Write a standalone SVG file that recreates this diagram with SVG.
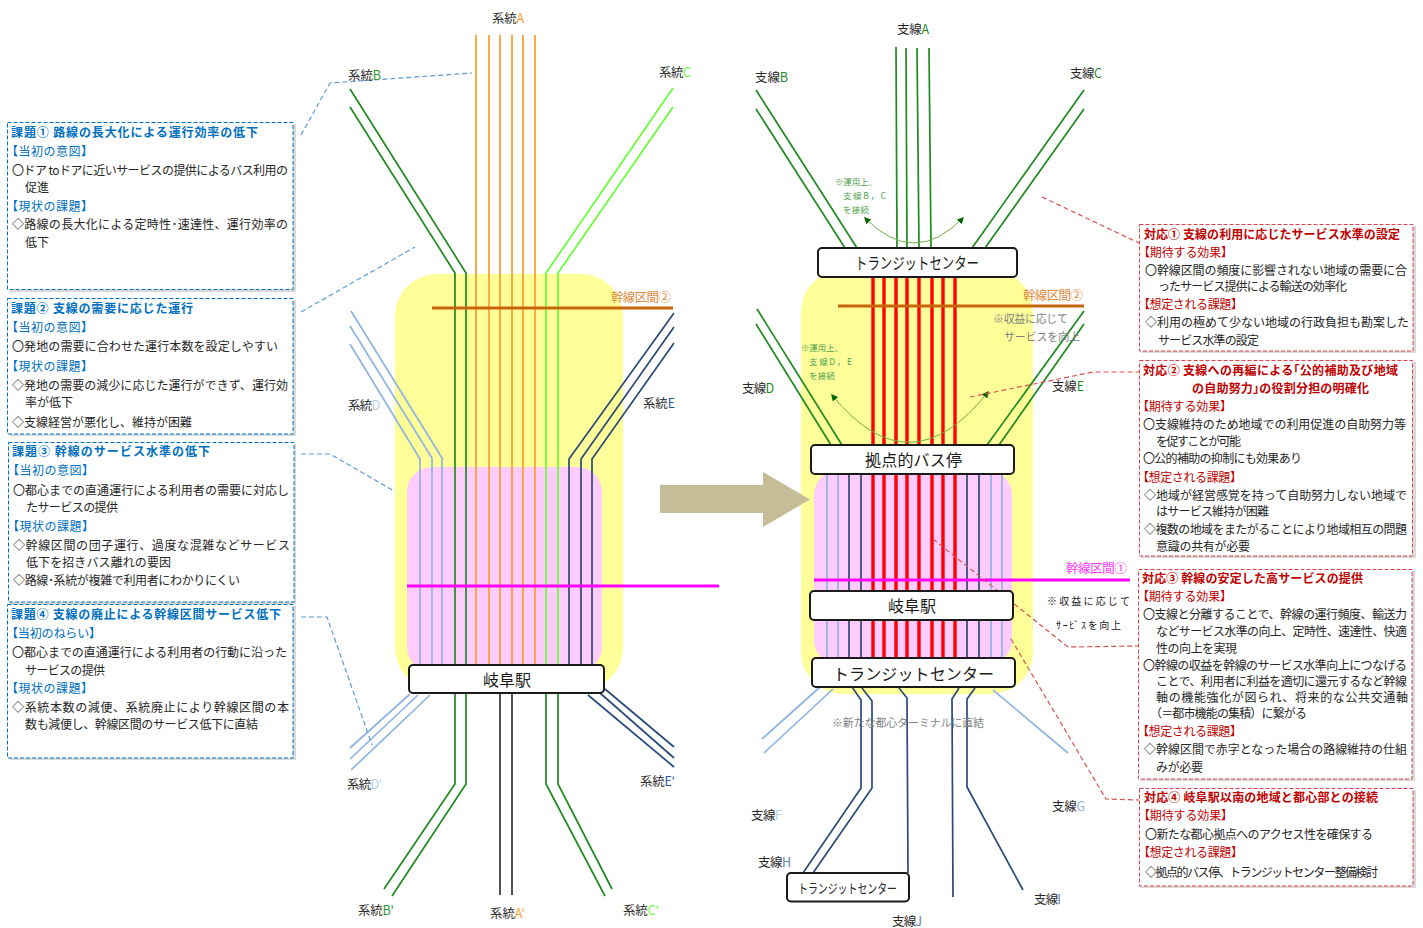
<svg xmlns="http://www.w3.org/2000/svg" width="1423" height="928" viewBox="0 0 1423 928">
<style>
text{font-family:"Noto Sans CJK JP","Liberation Sans",sans-serif;dominant-baseline:central;fill:#262626;transform:translateY(-2px)}
.t{font-size:12px}
.bh{font-size:12px;font-weight:700;fill:#0070c0}
.bs{font-size:12px;fill:#0070c0}
.rh{font-size:12px;font-weight:700;fill:#c00000}
.rs{font-size:12px;fill:#c00000}
.l{font-size:12.500px}
.n{font-size:16px;fill:#1a1a1a}
.gn{font-size:8.500px;fill:#4ea24e}
.gy{font-size:11px;fill:#7f7f7f}
.k{font-size:10px;fill:#1a1a1a}
line,polyline,path{fill:none}
.o{stroke:#ff9f33;stroke-width:1.800}
.g{stroke:#1f8a1f;stroke-width:1.700}
.lg{stroke:#66ff33;stroke-width:1.700}
.lb{stroke:#8eb4e3;stroke-width:1.700}
.nv{stroke:#2a4a7a;stroke-width:1.700}
.bk{stroke:#333;stroke-width:1.700}
.r{stroke:#ff0000;stroke-width:3.400}
.br{stroke:#c8640a;stroke-width:3}
.mg{stroke:#ff00ff;stroke-width:3}
.db{stroke:#5b9bd5;stroke-width:1.200;stroke-dasharray:5 3}
.dr{stroke:#d9534f;stroke-width:1.200;stroke-dasharray:5 3}
.cv{stroke:#70ad47;stroke-width:1;marker-start:url(#ah);marker-end:url(#ah)}
.nb{fill:#fff;stroke:#1a1a1a;stroke-width:2}
.sh{fill:#d9d9d9}
.bb{fill:#fff;stroke:#0070c0;stroke-width:1;stroke-dasharray:4 2}
.rb{fill:#fff;stroke:#d9434f;stroke-width:1;stroke-dasharray:4 2}
</style>
<defs>
<marker id="ah" viewBox="0 0 10 10" refX="8" refY="5" markerWidth="7" markerHeight="7" markerUnits="userSpaceOnUse" orient="auto-start-reverse"><path d="M0,0L10,5L0,10Z" style="fill:#006400"/></marker>
</defs>

<g id="zones">
<rect x="395" y="274" width="228" height="416" rx="42" fill="#ffff99"/>
<rect x="407" y="467" width="195" height="205" rx="25" fill="#ffccff"/>
<rect x="801" y="270" width="232" height="424" rx="42" fill="#ffff99"/>
<rect x="814" y="470" width="198" height="195" rx="25" fill="#ffccff"/>
<path d="M660,485H763V472L810,499.500L763,527V513H660Z" style="fill:#c4bd97"/>
</g>

<g id="connectors">
<line class="o" x1="476" y1="35" x2="476" y2="665"/>
<line class="o" x1="489" y1="35" x2="489" y2="665"/>
<line class="o" x1="500" y1="35" x2="500" y2="665"/>
<line class="o" x1="512" y1="35" x2="512" y2="665"/>
<line class="o" x1="523" y1="35" x2="523" y2="665"/>
<line class="o" x1="535" y1="35" x2="535" y2="665"/>
<polyline class="g" points="350,89 466,273 466,665"/>
<polyline class="g" points="350,107 455,273 455,665"/>
<polyline class="lg" points="673,88 546,273 546,665"/>
<polyline class="lg" points="673,107 558,273 558,665"/>
<polyline class="lb" points="351,311 442,458 442,665"/>
<polyline class="lb" points="350,326 432,458 432,665"/>
<polyline class="lb" points="350,344 420,459 420,665"/>
<polyline class="nv" points="674,313 569,459 569,665"/>
<polyline class="nv" points="674,327 581,459 581,665"/>
<polyline class="nv" points="674,343 592,459 592,665"/>
<line class="br" x1="432" y1="308" x2="673" y2="308"/>
<line class="mg" x1="407" y1="586" x2="719" y2="586"/>
<line class="lb" x1="410" y1="694" x2="350" y2="748"/>
<line class="lb" x1="418" y1="695" x2="350" y2="759"/>
<line class="lb" x1="430" y1="695" x2="351" y2="770"/>
<line class="nv" x1="605" y1="689" x2="674" y2="747"/>
<line class="nv" x1="600" y1="693" x2="674" y2="758"/>
<line class="nv" x1="588" y1="695" x2="674" y2="767"/>
<polyline class="g" points="455,693 455,784 384,889"/>
<polyline class="g" points="466,693 466,784 392,896"/>
<line class="bk" x1="500" y1="693" x2="500" y2="895"/>
<line class="bk" x1="512" y1="693" x2="512" y2="895"/>
<polyline class="g" points="546,693 546,784 605,896"/>
<polyline class="g" points="558,693 558,784 612,889"/>
<polyline class="db" points="301,135 330,83 472,73"/>
<line class="db" x1="301" y1="312" x2="415" y2="247"/>
<polyline class="db" points="301,454 330,454 394,491"/>
<polyline class="db" points="301,617 327,617 372,745"/>

<line class="g" x1="896" y1="47" x2="897" y2="248"/>
<line class="g" x1="906" y1="48" x2="907" y2="248"/>
<line class="g" x1="917" y1="48" x2="919" y2="248"/>
<line class="g" x1="929" y1="48" x2="931" y2="248"/>
<line class="g" x1="756" y1="90" x2="857" y2="248"/>
<line class="g" x1="756" y1="109" x2="845" y2="248"/>
<line class="g" x1="1084" y1="90" x2="972" y2="248"/>
<line class="g" x1="1084" y1="109" x2="985" y2="248"/>
<line class="g" x1="757" y1="309" x2="842" y2="445"/>
<line class="g" x1="756" y1="324" x2="831" y2="445"/>
<line class="g" x1="1084" y1="311" x2="987" y2="445"/>
<line class="g" x1="1084" y1="324" x2="999" y2="445"/>
<line class="r" x1="873" y1="277" x2="873" y2="658"/>
<line class="r" x1="884" y1="277" x2="884" y2="658"/>
<line class="r" x1="896" y1="277" x2="896" y2="658"/>
<line class="r" x1="907" y1="277" x2="907" y2="658"/>
<line class="r" x1="919" y1="277" x2="919" y2="658"/>
<line class="r" x1="932" y1="277" x2="932" y2="658"/>
<line class="r" x1="943" y1="277" x2="943" y2="658"/>
<line class="r" x1="955" y1="277" x2="955" y2="658"/>
<line class="lb" x1="827" y1="474" x2="827" y2="658"/>
<line class="lb" x1="838" y1="474" x2="838" y2="658"/>
<line class="nv" x1="849" y1="474" x2="849" y2="658"/>
<line class="nv" x1="861" y1="474" x2="861" y2="658"/>
<line class="nv" x1="967" y1="474" x2="967" y2="658"/>
<line class="nv" x1="979" y1="474" x2="979" y2="658"/>
<line class="lb" x1="991" y1="474" x2="991" y2="658"/>
<line class="lb" x1="1002" y1="474" x2="1002" y2="658"/>
<line class="br" x1="838" y1="306" x2="1084" y2="306"/>
<line class="mg" x1="814" y1="580" x2="1130" y2="580"/>
<path class="cv" d="M865,218Q914,268 963,218"/>
<path class="cv" d="M832,395Q910,491 988,392"/>
<line class="lb" x1="820" y1="687" x2="762" y2="739"/>
<line class="lb" x1="833" y1="689" x2="764" y2="753"/>
<line class="lb" x1="993" y1="690" x2="1068" y2="753"/>
<polyline class="nv" points="852,687 861,700 861,788 803,873"/>
<polyline class="nv" points="862,688 872,701 872,788 813,873"/>
<polyline class="nv" points="899,688 907,698 908,873"/>
<polyline class="nv" points="959,688 952,699 953,897"/>
<polyline class="nv" points="975,688 967,699 967,787 1023,890"/>
<line class="dr" x1="1042" y1="197" x2="1139" y2="243"/>
<polyline class="dr" points="970,397 1093,372 1139,372"/>
<polyline class="dr" points="933,539 1068,647 1138,646"/>
<polyline class="dr" points="1011,639 1106,799 1139,800"/>
</g>

<g id="node-gifu-left"><rect class="nb" x="409" y="665" width="195" height="28" rx="4"/><text class="n" x="507" y="680.500" text-anchor="middle">岐阜駅</text></g>
<g id="node-tc-top"><rect class="nb" x="818" y="248" width="199" height="29" rx="4"/><text class="n" x="855" y="264" textLength="124" lengthAdjust="spacingAndGlyphs">トランジットセンター</text></g>
<g id="node-hub-stop"><rect class="nb" x="811" y="445" width="203" height="29" rx="4"/><text class="n" x="865" y="461" textLength="97">拠点的バス停</text></g>
<g id="node-gifu-right"><rect class="nb" x="810" y="591" width="203" height="29" rx="4"/><text class="n" x="888" y="607" textLength="48">岐阜駅</text></g>
<g id="node-tc-mid"><rect class="nb" x="812" y="658" width="203" height="29" rx="4"/><text class="n" x="833" y="675" textLength="161">トランジットセンター</text></g>
<g id="node-tc-small"><rect class="nb" x="787" y="873" width="122" height="28.500" rx="4"/><text class="l" x="798" y="889" textLength="99" lengthAdjust="spacingAndGlyphs" style="font-size:13px">トランジットセンター</text></g>

<g id="labels-left">
<text class="l" x="492" y="19" textLength="32">系統<tspan fill="#ff9f33">A</tspan></text>
<text class="l" x="348" y="76" textLength="33">系統<tspan fill="#339933">B</tspan></text>
<text class="l" x="659" y="73" textLength="32">系統<tspan fill="#66ff33">C</tspan></text>
<text class="l" x="348" y="406" textLength="32">系統<tspan fill="#b4cdec">D</tspan></text>
<text class="l" x="643" y="404" textLength="32">系統<tspan fill="#2f5597">E</tspan></text>
<text class="l" x="611" y="298" textLength="60" style="fill:#e08a3c">幹線区間②</text>
<text class="l" x="347" y="785" textLength="35">系統<tspan fill="#b4cdec">D'</tspan></text>
<text class="l" x="640" y="782" textLength="35">系統<tspan fill="#2f5597">E'</tspan></text>
<text class="l" x="358" y="911" textLength="36">系統<tspan fill="#339933">B'</tspan></text>
<text class="l" x="490" y="914" textLength="35">系統<tspan fill="#ff9f33">A'</tspan></text>
<text class="l" x="623" y="911" textLength="36">系統<tspan fill="#66ff33">C'</tspan></text>
</g>

<g id="labels-right">
<text class="l" x="897" y="30" textLength="32">支線<tspan fill="#1f8a1f">A</tspan></text>
<text class="l" x="755" y="78" textLength="33">支線<tspan fill="#1f8a1f">B</tspan></text>
<text class="l" x="1070" y="74" textLength="32">支線<tspan fill="#1f8a1f">C</tspan></text>
<text class="l" x="742" y="389" textLength="32">支線<tspan fill="#1f8a1f">D</tspan></text>
<text class="l" x="1052" y="387" textLength="32">支線<tspan fill="#1f8a1f">E</tspan></text>
<text class="l" x="1023" y="296" textLength="60" style="fill:#e08a3c">幹線区間②</text>
<text class="l" x="1066" y="569" textLength="61" style="fill:#ff33ff">幹線区間①</text>
<text class="l" x="751" y="816" textLength="31">支線<tspan fill="#b4cdec">F</tspan></text>
<text class="l" x="1052" y="807" textLength="33">支線<tspan fill="#8eb4e3">G</tspan></text>
<text class="l" x="758" y="863" textLength="33">支線<tspan fill="#5a7fb0">H</tspan></text>
<text class="l" x="1034" y="900" textLength="27">支線<tspan fill="#5a7fb0">I</tspan></text>
<text class="l" x="892" y="922" textLength="30">支線<tspan fill="#5a7fb0">J</tspan></text>
<text class="gn" x="835" y="183" textLength="42">※運用上、</text>
<text class="gn" x="843" y="197" textLength="43">支線B，C</text>
<text class="gn" x="843" y="211" textLength="26">を接続</text>
<text class="gn" x="801" y="349" textLength="42">※運用上、</text>
<text class="gn" x="809" y="363" textLength="43">支線D，E</text>
<text class="gn" x="809" y="377" textLength="26">を接続</text>
<text class="gy" x="993" y="320" textLength="75">※収益に応じて</text>
<text class="gy" x="1004" y="338" textLength="76">サービスを向上</text>
<text class="gy" x="832" y="724" textLength="152">※新たな都心ターミナルに直結</text>
<text class="k" x="1047" y="602" textLength="83">※収益に応じて</text>
<text class="k" x="1056" y="626" textLength="65">ｻｰﾋﾞｽを向上</text>
</g>

<g id="issue-1">
<rect class="sh" x="10" y="124" width="286" height="168"/><rect class="bb" x="7.500" y="122.500" width="285.500" height="167"/>
<text class="bh" x="11" y="133" textLength="247">課題①  路線の長大化による運行効率の低下</text>
<text class="bs" x="6" y="152" textLength="87">【当初の意図】</text>
<text class="t" x="12" y="171" textLength="276">〇ドア toドアに近いサービスの提供によるバス利用の</text>
<text class="t" x="25" y="188" textLength="24">促進</text>
<text class="bs" x="6" y="207" textLength="87">【現状の課題】</text>
<text class="t" x="12" y="225" textLength="276">◇路線の長大化による定時性･速達性、運行効率の</text>
<text class="t" x="25" y="243" textLength="24">低下</text>
</g>
<g id="issue-2">
<rect class="sh" x="10" y="300" width="286" height="136"/><rect class="bb" x="7.500" y="298.500" width="285.500" height="135.500"/>
<text class="bh" x="11" y="309" textLength="182">課題②  支線の需要に応じた運行</text>
<text class="bs" x="6" y="328" textLength="87">【当初の意図】</text>
<text class="t" x="12" y="347" textLength="266">〇発地の需要に合わせた運行本数を設定しやすい</text>
<text class="bs" x="6" y="367" textLength="87">【現状の課題】</text>
<text class="t" x="12" y="386" textLength="276">◇発地の需要の減少に応じた運行ができず、運行効</text>
<text class="t" x="25" y="403" textLength="48">率が低下</text>
<text class="t" x="12" y="423" textLength="180">◇支線経営が悪化し、維持が困難</text>
</g>
<g id="issue-3">
<rect class="sh" x="10" y="444" width="286" height="160"/><rect class="bb" x="8.500" y="442.500" width="285.500" height="159.500"/>
<text class="bh" x="12" y="452" textLength="198">課題③  幹線のサービス水準の低下</text>
<text class="bs" x="7" y="471" textLength="87">【当初の意図】</text>
<text class="t" x="13" y="491" textLength="276">〇都心までの直通運行による利用者の需要に対応し</text>
<text class="t" x="26" y="508" textLength="92">たサービスの提供</text>
<text class="bs" x="7" y="527" textLength="87">【現状の課題】</text>
<text class="t" x="13" y="546" textLength="277">◇幹線区間の団子運行、過度な混雑などサービス</text>
<text class="t" x="26" y="563" textLength="145">低下を招きバス離れの要因</text>
<text class="t" x="13" y="581" textLength="227">◇路線･系統が複雑で利用者にわかりにくい</text>
</g>
<g id="issue-4">
<rect class="sh" x="10" y="606" width="286" height="154"/><rect class="bb" x="7.500" y="604.500" width="285.500" height="153.500"/>
<text class="bh" x="11" y="615" textLength="270">課題④  支線の廃止による幹線区間サービス低下</text>
<text class="bs" x="6" y="634" textLength="95">【当初のねらい】</text>
<text class="t" x="12" y="653" textLength="275">〇都心までの直通運行による利用者の行動に沿った</text>
<text class="t" x="25" y="671" textLength="80">サービスの提供</text>
<text class="bs" x="6" y="689" textLength="87">【現状の課題】</text>
<text class="t" x="12" y="708" textLength="277">◇系統本数の減便、系統廃止により幹線区間の本</text>
<text class="t" x="25" y="725" textLength="233">数も減便し、幹線区間のサービス低下に直結</text>
</g>

<g id="response-1">
<rect class="sh" x="1141" y="226" width="275" height="127"/><rect class="rb" x="1139.500" y="224.500" width="273.500" height="126.500"/>
<text class="rh" x="1144" y="235" textLength="256">対応①  支線の利用に応じたサービス水準の設定</text>
<text class="rs" x="1138" y="253" textLength="95">【期待する効果】</text>
<text class="t" x="1145" y="271" textLength="262">〇幹線区間の頻度に影響されない地域の需要に合</text>
<text class="t" x="1158" y="287" textLength="189">ったサービス提供による輸送の効率化</text>
<text class="rs" x="1138" y="305" textLength="105">【想定される課題】</text>
<text class="t" x="1145" y="323" textLength="264">◇利用の極めて少ない地域の行政負担も勘案した</text>
<text class="t" x="1158" y="341" textLength="101">サービス水準の設定</text>
</g>
<g id="response-2">
<rect class="sh" x="1141" y="362" width="275" height="196"/><rect class="rb" x="1139.500" y="360.500" width="273" height="195.500"/>
<text class="rh" x="1143" y="371" textLength="255">対応②  支線への再編による｢公的補助及び地域</text>
<text class="rh" x="1192" y="389" textLength="177">の自助努力｣の役割分担の明確化</text>
<text class="rs" x="1137" y="407" textLength="95">【期待する効果】</text>
<text class="t" x="1143" y="425" textLength="263">〇支線維持のため地域での利用促進の自助努力等</text>
<text class="t" x="1156" y="442" textLength="85">を促すことが可能</text>
<text class="t" x="1143" y="459" textLength="159">〇公的補助の抑制にも効果あり</text>
<text class="rs" x="1137" y="478" textLength="105">【想定される課題】</text>
<text class="t" x="1144" y="496" textLength="263">◇地域が経営感覚を持って自助努力しない地域で</text>
<text class="t" x="1156" y="512" textLength="113">はサービス維持が困難</text>
<text class="t" x="1144" y="530" textLength="263">◇複数の地域をまたがることにより地域相互の問題</text>
<text class="t" x="1156" y="547" textLength="94">意識の共有が必要</text>
</g>
<g id="response-3">
<rect class="sh" x="1140" y="571" width="275" height="210"/><rect class="rb" x="1138.500" y="569.500" width="273.500" height="209.500"/>
<text class="rh" x="1142" y="579" textLength="221">対応③  幹線の安定した高サービスの提供</text>
<text class="rs" x="1137" y="597" textLength="95">【期待する効果】</text>
<text class="t" x="1143" y="615" textLength="264">〇支線と分離することで、幹線の運行頻度、輸送力</text>
<text class="t" x="1156" y="632" textLength="251">などサービス水準の向上、定時性、速達性、快適</text>
<text class="t" x="1156" y="649" textLength="81">性の向上を実現</text>
<text class="t" x="1143" y="666" textLength="264">〇幹線の収益を幹線のサービス水準向上につなげる</text>
<text class="t" x="1156" y="682" textLength="251">ことで、利用者に利益を適切に還元するなど幹線</text>
<text class="t" x="1156" y="698" textLength="252">軸の機能強化が図られ、将来的な公共交通軸</text>
<text class="t" x="1150" y="714" textLength="157">（＝都市機能の集積）に繋がる</text>
<text class="rs" x="1137" y="732" textLength="105">【想定される課題】</text>
<text class="t" x="1144" y="750" textLength="263">◇幹線区間で赤字となった場合の路線維持の仕組</text>
<text class="t" x="1156" y="768" textLength="47">みが必要</text>
</g>
<g id="response-4">
<rect class="sh" x="1141" y="790" width="275" height="98"/><rect class="rb" x="1139.500" y="788.500" width="273.500" height="97.500"/>
<text class="rh" x="1144" y="798" textLength="234">対応④  岐阜駅以南の地域と都心部との接続</text>
<text class="rs" x="1138" y="816" textLength="95">【期待する効果】</text>
<text class="t" x="1145" y="835" textLength="228">〇新たな都心拠点へのアクセス性を確保する</text>
<text class="rs" x="1138" y="853" textLength="105">【想定される課題】</text>
<text class="t" x="1145" y="873" textLength="233">◇拠点的バス停、トランジットセンター整備検討</text>
</g>
</svg>
